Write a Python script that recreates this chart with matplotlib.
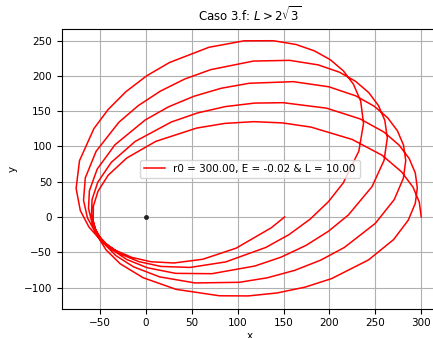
import numpy as np
import matplotlib
matplotlib.use("Agg")
import matplotlib.pyplot as plt

# orbit trace, one (x, y) list pair per revolution, starting at r0 = 300 on the x axis
rev1_x = [300.0, 297.8, 291.1, 278.6, 257.3, 224.7, 179.8, 149.0, 117.4, 85.8, 55.2, 10.8, -20.9, -41.2, -52.2, -57.3,
          -57.5, -52.9, -43.5, -28.0, -3.1, 32.9, 80.2, 111.5, 142.9, 173.5, 202.4, 242.6, 269.8, 285.8, 293.5, 295.7]
rev1_y = [0.0, 21.3, 42.1, 63.9, 87.5, 109.9, 127.4, 133.3, 135.1, 132.6, 126.0, 107.2, 83.6, 59.1, 36.6, 15.4,
          -6.0, -26.9, -46.6, -66.4, -86.1, -102.6, -111.7, -111.9, -107.7, -99.4, -87.3, -60.8, -32.1, -4.6, 19.3, 41.1]

rev2_x = [293.5, 286.9, 276.0, 259.3, 233.4, 196.9, 149.4, 118.1, 86.8, 56.3, 27.8, -11.7, -37.8, -52.5, -58.7, -59.3,
          -55.0, -46.1, -32.8, -13.5, 14.9, 53.5, 101.7, 132.3, 162.2, 190.4, 216.1, 250.0, 270.6, 280.5, 283.1, 280.7]
rev2_y = [62.4, 82.7, 101.7, 120.4, 139.0, 154.2, 162.0, 161.4, 156.5, 147.5, 134.7, 107.1, 77.4, 49.3, 24.9, 3.1,
          -17.9, -37.3, -54.7, -70.7, -84.9, -93.5, -92.6, -86.2, -75.6, -61.2, -43.3, -9.0, 24.7, 54.9, 79.9, 101.7]

rev3_x = [274.1, 263.4, 248.8, 228.6, 199.4, 160.6, 112.4, 81.9, 52.3, 24.4, -0.8, -33.7, -53.1, -61.6, -62.6, -58.6,
          -50.1, -37.3, -20.8, 1.5, 32.2, 71.8, 118.7, 147.3, 174.4, 198.9, 220.4, 246.4, 259.5, 263.0, 260.3, 253.4]
rev3_y = [122.0, 140.6, 156.9, 171.7, 184.5, 191.8, 189.5, 182.4, 171.1, 156.0, 137.5, 102.4, 67.9, 37.3, 12.2, -9.3,
          -28.9, -46.1, -60.3, -72.0, -79.9, -80.4, -69.5, -56.9, -40.3, -20.2, 2.6, 43.1, 80.4, 112.1, 137.0, 157.8]

rev4_x = [242.7, 228.4, 210.8, 187.9, 156.7, 117.2, 70.5, 42.2, 15.6, -8.5, -29.4, -54.3, -66.1, -68.0, -63.8, -55.4,
          -43.0, -26.9, -7.8, 16.4, 48.1, 86.9, 130.6, 155.9, 178.9, 198.8, 215.0, 232.0, 237.1, 234.0, 226.1, 215.1]
rev4_y = [176.4, 192.3, 205.2, 215.5, 222.0, 221.0, 208.8, 195.5, 178.3, 157.7, 134.4, 93.1, 55.4, 23.6, -1.1, -21.3,
          -38.7, -52.9, -63.3, -70.1, -71.5, -63.7, -43.2, -25.0, -3.1, 21.6, 48.3, 93.4, 132.6, 164.3, 188.2, 207.1]

rev5_x = [200.8, 183.4, 163.5, 138.9, 107.1, 68.6, 25.6, 0.7, -21.8, -41.1, -56.7, -72.4, -76.1, -71.5, -62.1, -49.8,
          -34.0, -15.4, 5.6, 30.6, 62.0, 98.3, 136.7, 151.1]
rev5_y = [223.0, 235.5, 244.5, 249.8, 249.7, 240.5, 218.9, 200.0, 177.6, 152.5, 125.3, 79.8, 40.4, 9.0, -14.3, -32.3,
          -46.8, -57.3, -63.5, -65.2, -59.9, -44.2, -15.2, 0.0]

x = np.concatenate([rev1_x, rev2_x, rev3_x, rev4_x, rev5_x])
y = np.concatenate([rev1_y, rev2_y, rev3_y, rev4_y, rev5_y])

fig = plt.figure(figsize=(4.33, 3.38), dpi=100)
ax = fig.add_axes([0.1425, 0.0867, 0.870, 0.8266])

ax.plot(x, y, color="red", lw=1.1, solid_joinstyle="round",
        label="r0 = 300.00, E = -0.02 & L = 10.00")
ax.plot(0, 0, "o", color="#222222", ms=2.5)

ax.set_xlim(-91.8, 318.7)
ax.set_ylim(-130, 266)
ax.set_xticks(np.arange(-50, 301, 50))
ax.set_yticks(np.arange(-100, 251, 50))
ax.tick_params(labelsize=7.5)
ax.grid(True)
ax.set_xlabel("x", fontsize=7.5, labelpad=1.5)
ax.set_ylabel("y", fontsize=7.5, labelpad=4)
ax.set_title(r"Caso 3.f: $L > 2\sqrt{3}$", fontsize=8.5)
ax.legend(loc="center", fontsize=7.5)

fig.savefig("out.png", dpi=100)
